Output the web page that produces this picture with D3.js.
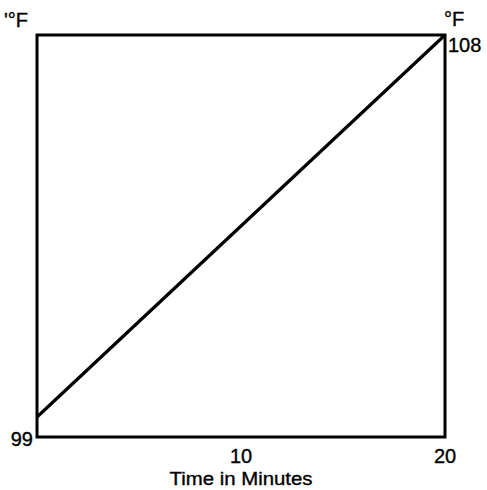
<!DOCTYPE html>
<html>
<head>
<meta charset="utf-8">
<script src="https://cdn.jsdelivr.net/npm/d3@7"></script>
<style>
  html, body { margin: 0; padding: 0; background: #fff; }
  svg text { font-family: "Liberation Sans", "DejaVu Sans", sans-serif; fill: #000; stroke: #000; stroke-width: 0.35; }
</style>
</head>
<body>
<svg id="chart" width="487" height="490"></svg>
<script>
// Temperature rise over time (straight heating curve)
const timeMinutes = [0, 20];
const temperatureF = [99, 108];
const xTickValues = [10, 20];
const yTickLabels = [99, 108];
const xAxisTitle = "Time in Minutes";
const unitLabel = "°F";

const svg = d3.select("#chart");
const frame = { left: 37, right: 445, top: 35, bottom: 437 };

const x = d3.scaleLinear().domain([0, 20]).range([frame.left, frame.right]);
const y = d3.scaleLinear().domain([99, 108]).range([417, frame.top]);

// plot frame
svg.append("rect")
  .attr("x", frame.left).attr("y", frame.top)
  .attr("width", frame.right - frame.left)
  .attr("height", frame.bottom - frame.top)
  .attr("fill", "none").attr("stroke", "#000").attr("stroke-width", 3);

// heating line
const pts = timeMinutes.map((t, i) => [t, temperatureF[i]]);
svg.append("path")
  .datum(pts)
  .attr("d", d3.line().x(d => x(d[0])).y(d => y(d[1])))
  .attr("fill", "none").attr("stroke", "#000").attr("stroke-width", 3.2);

// x tick labels
svg.selectAll("text.xtick").data(xTickValues).join("text")
  .attr("class", "xtick")
  .attr("x", d => x(d)).attr("y", 463)
  .attr("text-anchor", "middle")
  .attr("font-size", 20)
  .text(d => d);

svg.append("text")
  .attr("x", x(10)).attr("y", 485)
  .attr("text-anchor", "middle")
  .attr("font-size", 19)
  .attr("textLength", 143)
  .attr("lengthAdjust", "spacingAndGlyphs")
  .text(xAxisTitle);

// y end labels: 99 at the lower-left, 108 at the upper-right
svg.append("text")
  .attr("x", frame.left - 4).attr("y", frame.bottom + 9)
  .attr("text-anchor", "end")
  .attr("font-size", 20)
  .text(yTickLabels[0]);

svg.append("text")
  .attr("x", frame.right + 3).attr("y", y(108) + 17)
  .attr("text-anchor", "start")
  .attr("font-size", 20)
  .text(yTickLabels[1]);

// unit labels
svg.append("text")
  .attr("x", 4).attr("y", 27)
  .attr("font-size", 20)
  .text("'" + unitLabel);

svg.append("text")
  .attr("x", frame.right - 1).attr("y", 26)
  .attr("font-size", 20)
  .text(unitLabel);
</script>
</body>
</html>
